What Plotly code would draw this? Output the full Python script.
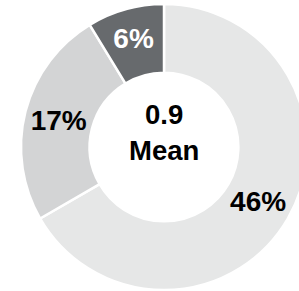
import plotly.graph_objects as go

labels = ["A", "B", "C"]
values = [46, 17, 6]
colors = ["#e6e7e7", "#d3d4d5", "#676a6d"]
text_colors = ["#000000", "#000000", "#ffffff"]
center_text = "0.9<br>Mean"

W, H = 307, 291
fig = go.Figure(go.Pie(
    labels=labels,
    values=values,
    hole=0.52,
    sort=False,
    direction="clockwise",
    rotation=0,
    marker=dict(colors=colors, line=dict(color="#ffffff", width=2.5)),
    texttemplate="<b>%{value}%</b>",
    textposition="inside",
    insidetextorientation="horizontal",
    textfont=dict(family="Liberation Sans, Arial, sans-serif", size=28, color=text_colors),
    domain=dict(x=[21 / W, 1], y=[1 - 290 / H, 1 - 4 / H]),
    showlegend=False,
    hoverinfo="skip",
))
fig.add_annotation(
    x=164 / W, y=1 - 133 / H, xref="paper", yref="paper",
    text="<b>" + center_text + "</b>", showarrow=False,
    font=dict(family="Liberation Sans, Arial, sans-serif", size=27.5, color="#000000"),
)
fig.update_layout(
    width=W, height=H,
    margin=dict(l=0, r=0, t=0, b=0),
    paper_bgcolor="#ffffff",
    plot_bgcolor="#ffffff",
)
fig.write_html(
    "out.html",
    config={"displayModeBar": False},
    post_script="document.body.style.margin='0';document.body.style.overflow='hidden';",
)
